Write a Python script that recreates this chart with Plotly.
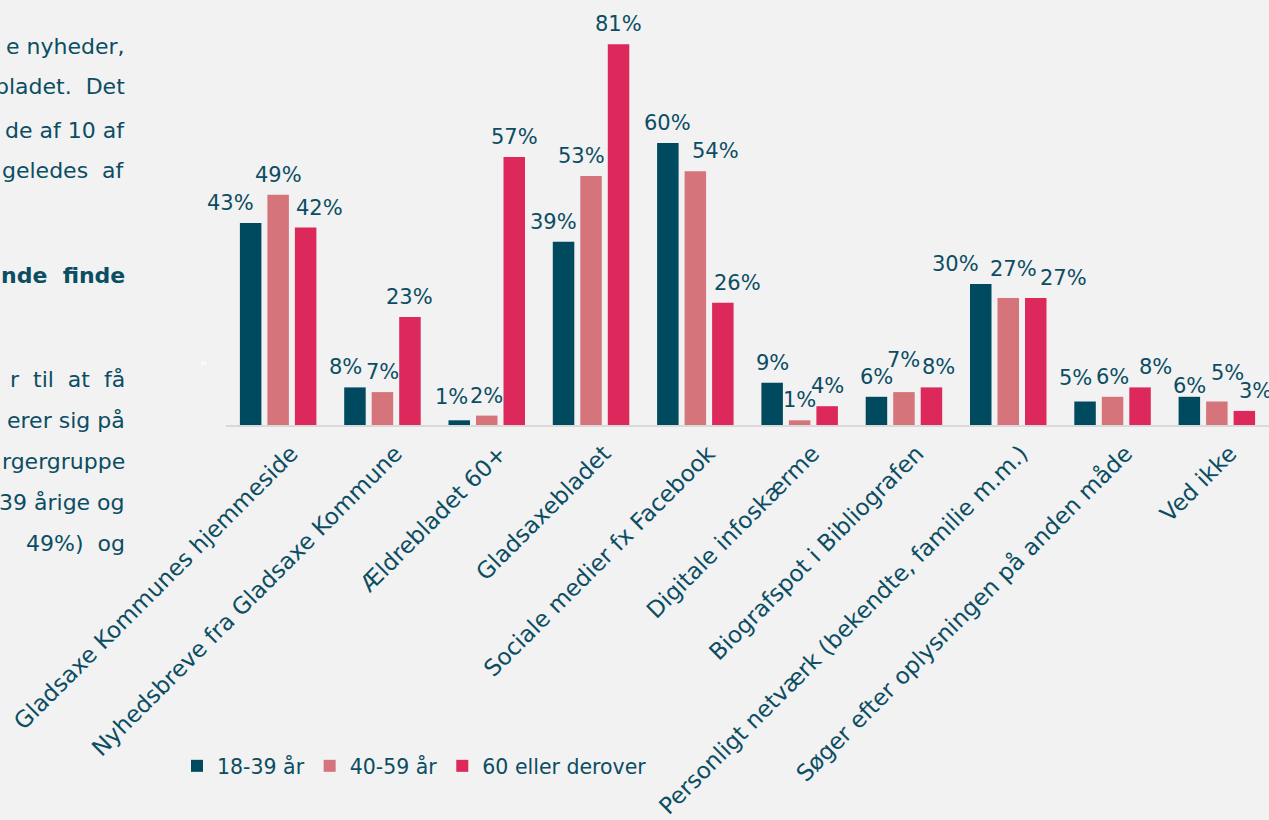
import plotly.graph_objects as go

categories = [
    "Gladsaxe Kommunes hjemmeside",
    "Nyhedsbreve fra Gladsaxe Kommune",
    "Ældrebladet 60+",
    "Gladsaxebladet",
    "Sociale medier fx Facebook",
    "Digitale infoskærme",
    "Biografspot i Bibliografen",
    "Personligt netværk (bekendte, familie m.m.)",
    "Søger efter oplysningen på anden måde",
    "Ved ikke",
]
series_names = ["18-39 år", "40-59 år", "60 eller derover"]
age_18_39 = [43, 8, 1, 39, 60, 9, 6, 30, 5, 6]
age_40_59 = [49, 7, 2, 53, 54, 1, 7, 27, 6, 5]
age_60_plus = [42, 23, 57, 81, 26, 4, 8, 27, 8, 3]

# left-hand paragraph fragments (document text beside the chart)
side_text = [
    "e\u00a0nyheder,", "bladet.\u00a0\u00a0Det", "de\u00a0af\u00a010\u00a0af",
    "geledes\u00a0\u00a0af", "<b>nde\u00a0\u00a0finde</b>",
    "r\u00a0\u00a0til\u00a0\u00a0at\u00a0\u00a0få", "erer\u00a0sig\u00a0på",
    "rgergruppe", "39\u00a0årige\u00a0og", "49%)\u00a0\u00a0og",
]
side_text_y = [46, 87, 130, 171, 275, 379, 420, 461, 502, 543]

# label nudges (px) to mimic the reference label placement
label_dx = [
    [-20, -9, -8, -10, 0, 0, 0, -25, -10, 0],
    [0, 0, 0, -10, 20, 0, 0, 5, 0, 11],
    [14, 0, 0, 0, 15, 0, 7, 28, 15, 11],
]
label_dy = [
    [0, 0, 3, 0, 0, 0, 0, 0, 4, -9],
    [0, 0, 0, 0, 0, 0, 12, 9, 0, 9],
    [0, 0, 0, 0, 0, 0, 0, 0, 0, 0],
]

colors = ["#004a60", "#d5747b", "#dc285b"]
text_color = "#0b4d63"
font_family = "DejaVu Sans"

W, H = 1269, 820
PLOT_L, PLOT_R = 226, 1269
PLOT_T, PLOT_B = 0, 425
slot_px = 27.5

values = [age_18_39, age_40_59, age_60_plus]

fig = go.Figure()
for name, vals, col in zip(series_names, values, colors):
    fig.add_trace(go.Bar(
        x=categories, y=vals, name=name,
        marker=dict(color=col, line=dict(width=0)),
        hoverinfo="x+y+name",
    ))

annotations = []
for si, vals in enumerate(values):
    base = (si - 1) * slot_px
    for ci, v in enumerate(vals):
        annotations.append(dict(
            x=categories[ci], y=v, xref="x", yref="y",
            text=f"{v}%", showarrow=False,
            xanchor="center", yanchor="middle",
            xshift=base + label_dx[si][ci], yshift=20 + label_dy[si][ci],
            font=dict(family=font_family, size=21, color=text_color),
        ))

for t, py in zip(side_text, side_text_y):
    annotations.append(dict(
        x=127 / W, y=1 - py / H, xref="paper", yref="paper", text=t,
        showarrow=False, xanchor="right", yanchor="middle",
        font=dict(family=font_family, size=22, color=text_color),
    ))

annotations.append(dict(
    x=203 / W, y=1 - 368 / H, xref="paper", yref="paper", text="\"",
    showarrow=False, xanchor="center", yanchor="middle",
    font=dict(family=font_family, size=16, color="#ffffff"),
))

fig.update_layout(
    width=W, height=H,
    margin=dict(l=0, r=0, t=0, b=0, pad=0),
    paper_bgcolor="#f2f2f2", plot_bgcolor="#f2f2f2",
    barmode="group", bargap=0.209, bargroupgap=0.218,
    font=dict(family=font_family, color=text_color),
    showlegend=True,
    legend=dict(
        orientation="h", x=177 / W, xanchor="left",
        y=1 - 766 / H, yanchor="middle",
        font=dict(family=font_family, size=20.5, color=text_color),
        bgcolor="rgba(0,0,0,0)", itemwidth=30, traceorder="normal",
    ),
    annotations=annotations,
)
fig.update_xaxes(
    type="category", tickangle=-45, domain=[PLOT_L / W, PLOT_R / W],
    range=[-0.5, len(categories) - 0.5], autorange=False,
    tickfont=dict(family=font_family, size=23, color=text_color),
    showline=True, linecolor="#d9d9d9", linewidth=2,
    ticks="", showgrid=False, automargin=False,
    ticklabelshift=13, ticklabelstandoff=4,
)
fig.update_yaxes(
    range=[0, (PLOT_B - PLOT_T) / 4.70], autorange=False, visible=False,
    showgrid=False, zeroline=False, automargin=False,
    domain=[1 - PLOT_B / H, 1 - PLOT_T / H],
)

fig.write_html(
    "out.html",
    config={"displayModeBar": False},
    post_script=(
        "document.body.style.margin='0';"
        "document.body.style.overflow='hidden';"
        "document.body.style.background='#f2f2f2';"
    ),
)
